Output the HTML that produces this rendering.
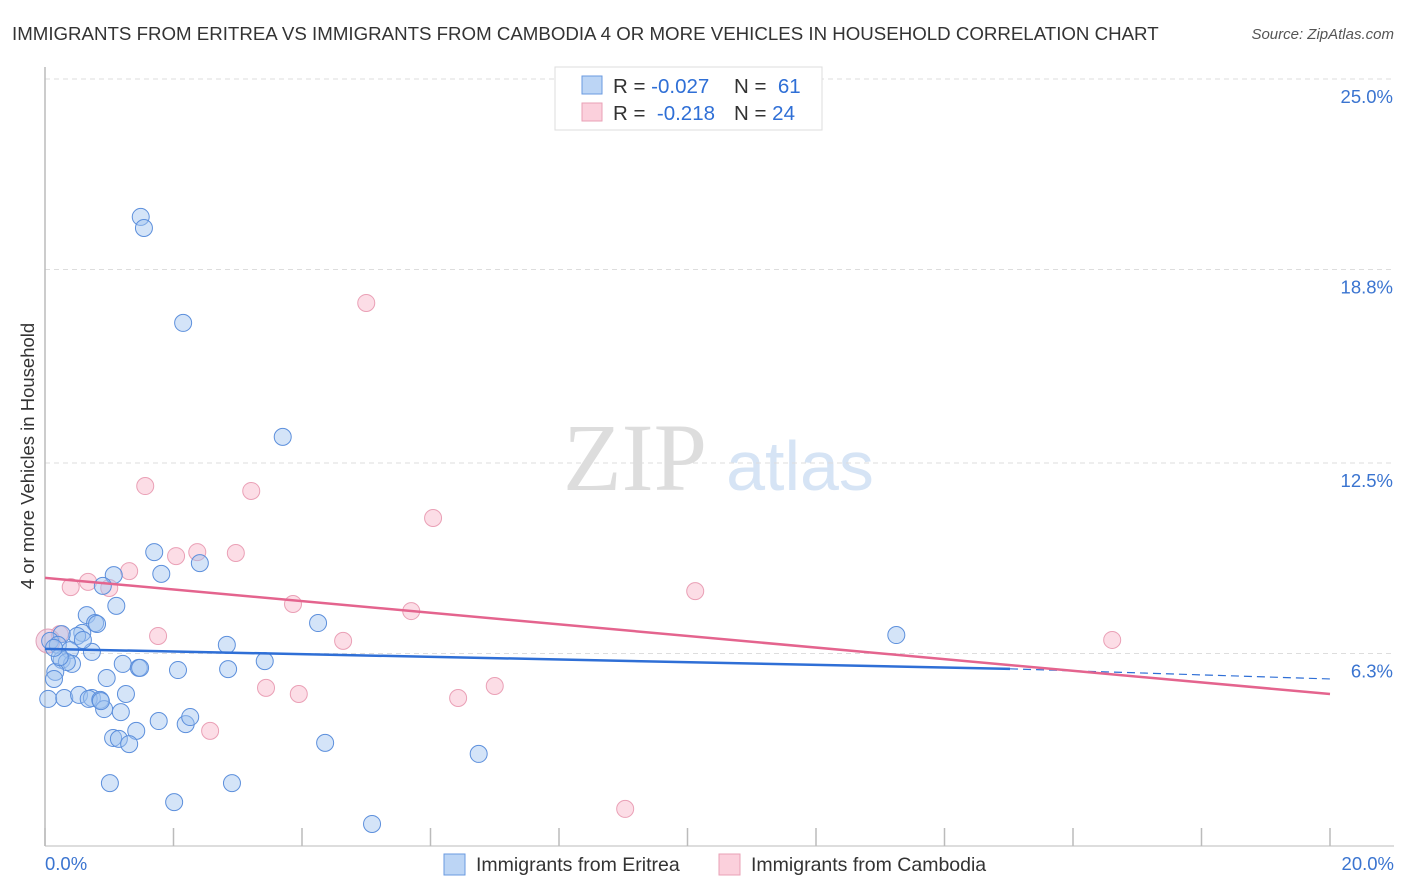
<!DOCTYPE html>
<html><head><meta charset="utf-8"><style>
body{margin:0;background:#fff;font-family:"Liberation Sans",sans-serif;}
#wrap{position:relative;width:1406px;height:892px;overflow:hidden;}
</style></head><body><div id="wrap">
<svg id="svg" width="1406" height="892"></svg>
</div>
<script>
const bluePx=[[141,217],[144,228],[183,323],[283,437],[154,552],[200,563],[161,574],[114,575],[103,586],[116,606],[87,615],[95,623],[97,624],[82,633],[77,636],[62,634],[50,641],[58,645],[70,650],[92,652],[62,660],[72,664],[67,662],[55,672],[54,679],[123,664],[139,668],[178,670],[228,669],[265,661],[318,623],[227,645],[107,678],[48,699],[64,698],[79,695],[92,698],[89,699],[100,700],[104,709],[126,694],[121,712],[159,721],[186,724],[190,717],[136,731],[113,738],[119,739],[129,744],[325,743],[479,754],[110,783],[232,783],[174,802],[372,824],[896,635],[60,657],[54,648],[101,701],[140,668],[83,640]];
const pinkPx=[[60,634],[71,587],[88,582],[109,588],[129,571],[145,486],[158,636],[176,556],[197,552],[236,553],[251,491],[293,604],[343,641],[366,303],[411,611],[433,518],[458,698],[495,686],[299,694],[266,688],[210,731],[625,809],[695,591],[1112,640]];
const blueXs=bluePx.map(p=>+((p[0]-45)/1285*20).toFixed(2));
const blueYs=bluePx.map(p=>+((847-p[1])/768*25).toFixed(2));
const pinkXs=pinkPx.map(p=>+((p[0]-45)/1285*20).toFixed(2));
const pinkYs=pinkPx.map(p=>+((847-p[1])/768*25).toFixed(2));
const yTicks=[25.0,18.8,12.5,6.3];
const yTickLabels=["25.0%","18.8%","12.5%","6.3%"];
const blueTrend=[[0,6.45],[15.02,5.8],[20,5.47]];
const pinkTrend=[[0,8.76],[20,4.98]];
const NS="http://www.w3.org/2000/svg";
const svg=document.getElementById('svg');
const X=v=>45+v/20*1285, Y=v=>847-v/25*768;
function el(t,a,txt){const e=document.createElementNS(NS,t);for(const k in a)e.setAttribute(k,a[k]);if(txt!==undefined)e.textContent=txt;svg.appendChild(e);return e;}
let t=el('text',{x:12,y:40,'font-size':18.7,fill:'#333'},'IMMIGRANTS FROM ERITREA VS IMMIGRANTS FROM CAMBODIA 4 OR MORE VEHICLES IN HOUSEHOLD CORRELATION CHART');

t=el('text',{x:1394,y:39,'font-size':15,fill:'#555','font-style':'italic','text-anchor':'end'},'Source: ZipAtlas.com');

t=el('text',{x:635,y:490,'font-size':96,fill:'#ddd','font-family':'Liberation Serif','text-anchor':'middle'},'ZIP');

t=el('text',{x:800,y:490,'font-size':70,fill:'#d6e4f5','text-anchor':'middle'},'atlas');

yTicks.forEach((v,i)=>{
 let g=el('line',{x1:45,x2:1394,y1:Y(v),y2:Y(v),stroke:'#ddd','stroke-dasharray':'5,4'});
 
 let l=el('text',{x:1393,y:Y(v)+24,'font-size':18.5,fill:'#3a74d0','text-anchor':'end'},yTickLabels[i]);
 
});
let a=el('line',{x1:45,x2:45,y1:67,y2:846,stroke:'#bbb','stroke-width':1.5});

a=el('line',{x1:45,x2:1394,y1:846,y2:846,stroke:'#bbb','stroke-width':1});

for(let i=0;i<=10;i++){let k=el('line',{x1:X(i*2),x2:X(i*2),y1:828,y2:846,stroke:'#bbb','stroke-width':1.5});
 }
t=el('text',{x:45,y:870,'font-size':18.5,fill:'#3a74d0'},'0.0%');
t=el('text',{x:1394,y:870,'font-size':18.5,fill:'#3a74d0','text-anchor':'end'},'20.0%');
t=el('text',{x:34,y:456,'font-size':18.5,fill:'#333','text-anchor':'middle',transform:'rotate(-90 34 456)'},'4 or more Vehicles in Household');

pinkXs.forEach((x,i)=>{const c=el('circle',{cx:X(x),cy:Y(pinkYs[i]),r:8.5,fill:'rgba(248,180,200,0.45)',stroke:'#eaa0b6','stroke-width':1});
 });
let big=el('circle',{cx:48,cy:641,r:12,fill:'rgba(230,170,200,0.45)',stroke:'#e0a0b8'});

blueXs.forEach((x,i)=>{const c=el('circle',{cx:X(x),cy:Y(blueYs[i]),r:8.5,fill:'rgba(160,195,240,0.45)',stroke:'#5c8fdc','stroke-width':1});
 });
let tl=el('line',{x1:X(blueTrend[0][0]),y1:Y(blueTrend[0][1]),x2:X(blueTrend[1][0]),y2:Y(blueTrend[1][1]),stroke:'#2f6fd6','stroke-width':2.5});

tl=el('line',{x1:X(blueTrend[1][0]),y1:Y(blueTrend[1][1]),x2:X(blueTrend[2][0]),y2:Y(blueTrend[2][1]),stroke:'#2f6fd6','stroke-width':1.2,'stroke-dasharray':'8,5'});

tl=el('line',{x1:X(pinkTrend[0][0]),y1:Y(pinkTrend[0][1]),x2:X(pinkTrend[1][0]),y2:Y(pinkTrend[1][1]),stroke:'#e4648e','stroke-width':2.5});

let r=el('rect',{x:555,y:67,width:267,height:63,fill:'#fff',stroke:'#ddd'});

r=el('rect',{x:582,y:76,width:20,height:18,fill:'#bcd5f5',stroke:'#6a9ae0'});
r=el('rect',{x:582,y:103,width:20,height:18,fill:'#fbd0dc',stroke:'#eaa0b6'});
function stat(y,rv,nv,nm){let g=el('text',{x:613,y:y,'font-size':20.5,fill:'#333'});g.innerHTML='R = <tspan fill="#2f6fd6">'+rv+'</tspan>';
 
 let h=el('text',{x:734,y:y,'font-size':20.5,fill:'#333'});h.innerHTML='N = <tspan fill="#2f6fd6">'+nv+'</tspan>';
 }
stat(93,'-0.027','&#160;61','eritrea');stat(120,'&#160;-0.218','24','cambodia');
r=el('rect',{x:444,y:854,width:21,height:21,fill:'#bcd5f5',stroke:'#6a9ae0'});
t=el('text',{x:476,y:871,'font-size':19.5,fill:'#333'},'Immigrants from Eritrea');
r=el('rect',{x:719,y:854,width:21,height:21,fill:'#fbd0dc',stroke:'#eaa0b6'});
t=el('text',{x:751,y:871,'font-size':19.5,fill:'#333'},'Immigrants from Cambodia');
</script></body></html>
